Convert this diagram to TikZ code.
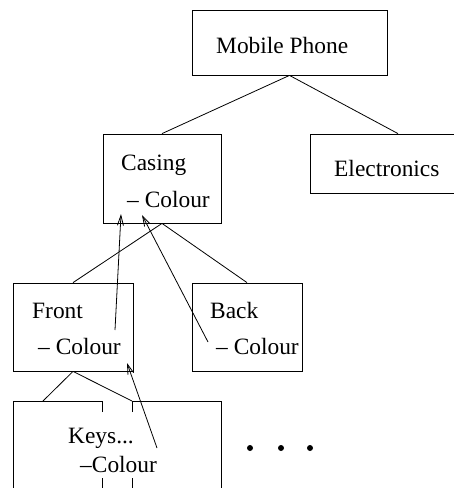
\documentclass[tikz,border=0pt]{standalone}
\usepackage{fontspec}
\setmainfont{Liberation Serif}
\usetikzlibrary{arrows.meta}
\begin{document}
\begin{tikzpicture}[x=1pt,y=-1pt,
  box/.style={draw, line width=0.8pt, rectangle, inner sep=0pt},
  lbl/.style={anchor=base west, inner sep=0pt, font=\fontsize{23.4}{28}\selectfont},
  link/.style={line width=0.8pt},
  ref/.style={line width=0.8pt, -{Straight Barb[length=10pt,width=6pt]}},
  dot/.style={circle, fill, inner sep=0pt, minimum size=6pt}]
\useasboundingbox (0,0) rectangle (454,488);
\clip (0,0) rectangle (454,488);

% component boxes
\node[box, minimum width=195pt, minimum height=65pt] (phone)  at (289.5,42.5) {};
\node[box, minimum width=176pt, minimum height=59pt] (elec)   at (398,163.5) {};
\node[box, minimum width=118pt, minimum height=89pt] (casing) at (162,178.5) {};
\node[box, minimum width=120pt, minimum height=88pt] (front)  at (73,327) {};
\node[box, minimum width=110pt, minimum height=88pt] (back)   at (247,327) {};

% split box for the keys
\coordinate (keysL) at (43,401);
\coordinate (keysR) at (132,401);
\draw[link] (102,412) -- (102,401) -- (13,401) -- (13,500);
\draw[link] (132,412) -- (keysR) -- (221,401) -- (221,500);
\draw[link] (102,478) -- (102,500);
\draw[link] (132,478) -- (132,500);

% labels
\node[lbl] (tphone) at (216,53) {Mobile Phone};
\node[lbl] (telec)  at (334,176) {Electronics};
\node[lbl] (tcas)   at (121,170) {Casing};
\node[lbl] (tcasc)  at (127,207) {– Colour};
\node[lbl] (tfr)    at (32,318) {Front};
\node[lbl] (tfrc)   at (38,354) {– Colour};
\node[lbl] (tbk)    at (210,318) {Back};
\node[lbl] (tbkc)   at (216,354) {– Colour};
\node[lbl] (tkey)   at (68,443) {Keys...};
\node[lbl] (tkeyc)  at (80,472) {–Colour};

% hierarchy links
\draw[link] (phone.south) -- (casing.north);
\draw[link] (phone.south) -- (elec.north);
\draw[link] (casing.south) -- (front.north);
\draw[link] (casing.south) -- (back.north);
\draw[link] (front.south) -- (keysL);
\draw[link] (front.south) -- (keysR);

% colour references
\coordinate (fromFront) at (115,330);
\coordinate (toCas1)    at (121,214);
\coordinate (fromBack)  at (208,342);
\coordinate (toCas2)    at (142,215);
\coordinate (fromKeys)  at (157,448);
\coordinate (toFront)   at (127,363);
\draw[ref] (fromFront) -- (toCas1);
\draw[ref] (fromBack) -- (toCas2);
\draw[ref] (fromKeys) -- (toFront);

% more parts
\node[dot] (d1) at (250,448) {};
\node[dot] (d2) at (281,448) {};
\node[dot] (d3) at (310,448) {};
\end{tikzpicture}
\end{document}
